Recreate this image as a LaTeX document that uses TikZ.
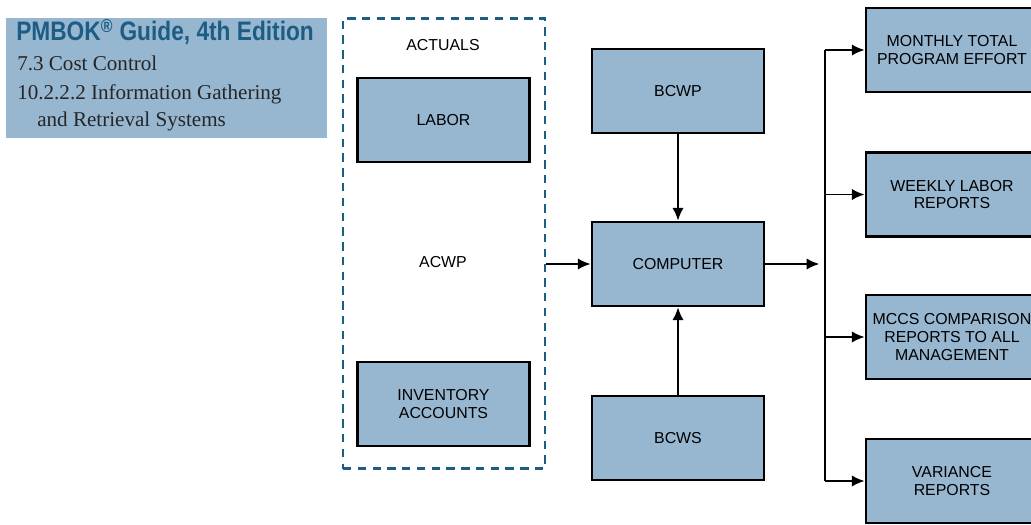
\documentclass[tikz,border=0pt]{standalone}
\usepackage{fontspec}
\setmainfont{Liberation Serif}
\setsansfont{Liberation Sans}
\newfontfamily\titlefont[FakeStretch=0.85]{Liberation Sans}
\usetikzlibrary{positioning,arrows.meta}

\definecolor{boxblue}{HTML}{97B7D0}
\definecolor{pmblue}{HTML}{1D5D84}

\begin{document}
\begin{tikzpicture}[x=0.025cm, y=-0.025cm,
    every node/.style={font=\sffamily\fontsize{11.3}{12.5}\selectfont, align=center},
    block/.style={draw=black, line width=1.9pt, fill=boxblue,
        minimum width=4.3cm, minimum height=2.1cm, inner sep=2pt},
    flow/.style={-{Latex[length=9pt,width=8pt]}, line width=1.4pt}]

    % Page size
    \useasboundingbox (0,0) rectangle (1031,525);

    % PMBOK reference box
    \fill[boxblue] (6,18) rectangle (327,138);
    \node[anchor=base west, inner sep=0, font=\titlefont\bfseries\fontsize{19}{20}\selectfont, text=pmblue]
        (title) at (16,41) {PMBOK\textsuperscript{\textregistered} Guide, 4th Edition};
    \node[anchor=base west, inner sep=0, font=\rmfamily\fontsize{15}{16}\selectfont, text=black!85]
        (ref1) at (17,71) {7.3 Cost Control};
    \node[anchor=base west, inner sep=0, font=\rmfamily\fontsize{15}{16}\selectfont, text=black!85]
        (ref2) at (17,100) {10.2.2.2 Information Gathering};
    \node[anchor=base west, inner sep=0, font=\rmfamily\fontsize{15}{16}\selectfont, text=black!85]
        (ref3) at (37,127) {and Retrieval Systems};

    % Actuals group
    \node[draw=pmblue, line width=2pt, dash pattern=on 6pt off 4.5pt,
        minimum width=5.05cm, minimum height=11.25cm] (actuals) at (444,243.5) {};
    \node (actualstxt) at (443,45) {ACTUALS};
    \node[block] (labor) at (443.5,120) {LABOR};
    \node (acwp) at (443,262) {ACWP};
    \node[block] (inventory) at (443.5,404) {INVENTORY\\ACCOUNTS};

    % Middle column
    \node[block] (bcwp) at (678,91) {BCWP};
    \node[block] (computer) at (678,264) {COMPUTER};
    \node[block] (bcws) at (678,438) {BCWS};

    % Reports
    \node[block] (monthly) at (952,50) {MONTHLY TOTAL\\PROGRAM EFFORT};
    \node[block] (weekly) at (952,194.5) {WEEKLY LABOR\\REPORTS};
    \node[block] (mccs) at (952,337) {MCCS COMPARISON\\REPORTS TO ALL\\MANAGEMENT};
    \node[block] (variance) at (952,481) {VARIANCE\\REPORTS};

    % Inputs to computer
    \draw[flow] (actuals.east |- computer.west) -- (computer.west);
    \draw[flow] (bcwp) -- (computer);
    \draw[flow] (bcws) -- (computer);

    % Output bus
    \coordinate (bus) at (825,264);
    \draw[flow] (computer.east) -- ([xshift=-4]bus);
    \draw[line width=1.4pt] (bus |- monthly.west) -- (bus |- variance.west);
    \foreach \rep in {monthly, weekly, mccs, variance}
        \draw[flow] (bus |- \rep.west) -- (\rep.west);
\end{tikzpicture}
\end{document}
